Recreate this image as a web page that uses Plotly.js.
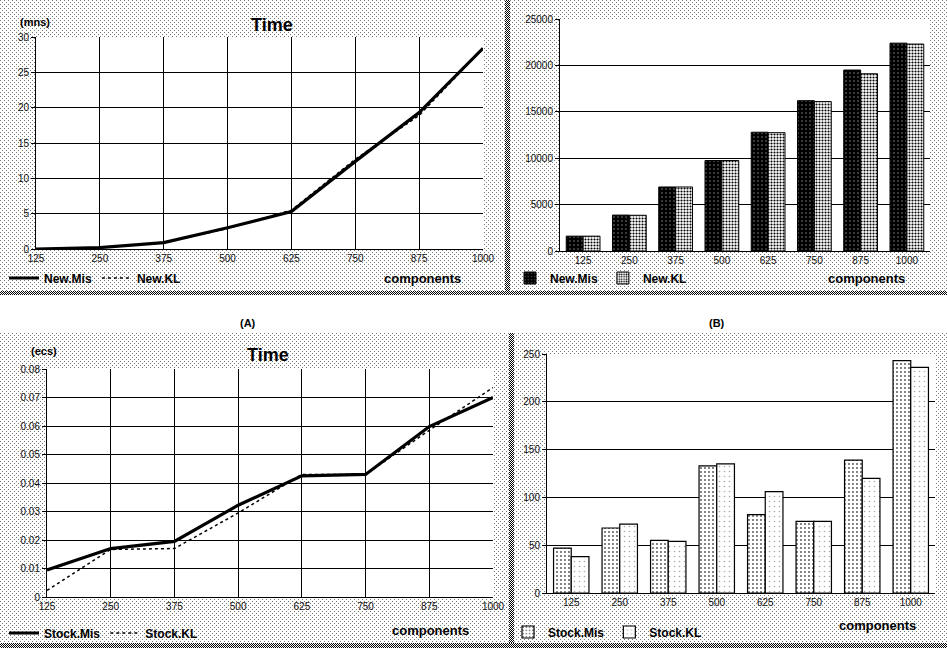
<!DOCTYPE html>
<html>
<head>
<meta charset="utf-8">
<script src="https://cdn.plot.ly/plotly-3.0.1.min.js"></script>
<style>
  html, body { margin: 0; padding: 0; background: #fff; width: 947px; height: 651px; overflow: hidden; }
  .panel {
    position: absolute;
    box-sizing: border-box;
    background-color: #fff;
    background-image: url("data:image/svg+xml;utf8,<svg xmlns='http://www.w3.org/2000/svg' width='4' height='4' shape-rendering='crispEdges'><rect x='0' y='0' width='1' height='1' fill='%23777'/><rect x='2' y='2' width='1' height='1' fill='%23777'/></svg>");
    background-size: 4px 4px;
    background-repeat: repeat;
  }
  .band {
    position: absolute;
    background: repeating-conic-gradient(#000 0 25%, #fff 0 50%) 0 0 / 2px 2px;
  }
  #chart { position: absolute; left: 0; top: 0; width: 947px; height: 651px; }
</style>
</head>
<body>
<div class="panel" style="left:0;top:0;width:506px;height:292px;"></div>
<div class="panel" style="left:510px;top:0;width:437px;height:292px;"></div>
<div class="band" style="left:505px;top:0;width:5px;height:295px;"></div>
<div class="band" style="left:0;top:291px;width:947px;height:4px;"></div>

<div class="panel" style="left:0;top:333px;width:510px;height:311px;"></div>
<div class="panel" style="left:514px;top:333px;width:433px;height:311px;"></div>
<div class="band" style="left:509px;top:333px;width:5px;height:315px;"></div>
<div class="band" style="left:0;top:643px;width:947px;height:5px;"></div>

<div id="chart"></div>
<script>
// ---- data ----
const components = [125, 250, 375, 500, 625, 750, 875, 1000];
const componentLabels = ['125', '250', '375', '500', '625', '750', '875', '1000'];

// (A) Time in minutes
const newMisTime = [0, 0.2, 0.9, 3.0, 5.3, 12.4, 19.3, 28.4];
const newKLTime  = [0, 0.2, 0.9, 2.9, 5.5, 12.7, 18.9, 28.4];

// (B) bars
const newMisBars = [1600, 3870, 6900, 9750, 12800, 16200, 19500, 22400];
const newKLBars  = [1600, 3850, 6900, 9750, 12750, 16100, 19100, 22300];

// (C) Time in seconds
const stockMisTime = [0.0095, 0.017, 0.0195, 0.0322, 0.0425, 0.043, 0.0598, 0.070];
const stockKLTime  = [0.0023, 0.0167, 0.017, 0.0295, 0.043, 0.043, 0.0585, 0.0735];

// (D) bars
const stockMisBars = [47, 68, 55, 133, 82, 75, 139, 243];
const stockKLBars  = [38, 72, 54, 135, 106, 75, 120, 236];

// tick labels
const ticksA = [0, 5, 10, 15, 20, 25, 30];
const ticksB = [0, 5000, 10000, 15000, 20000, 25000];
const ticksC = [0, 0.01, 0.02, 0.03, 0.04, 0.05, 0.06, 0.07, 0.08];
const ticksCText = ['0', '0.01', '0.02', '0.03', '0.04', '0.05', '0.06', '0.07', '0.08'];
const ticksD = [0, 50, 100, 150, 200, 250];

const seriesNames = { newMis: 'New.Mis', newKL: 'New.KL', stockMis: 'Stock.Mis', stockKL: 'Stock.KL' };

// ---- layout helpers ----
const W = 947, H = 651;
const px = v => v / W;
const py = v => 1 - v / H;
const FONT = 'Liberation Sans, Arial, sans-serif';
const tickFont = { family: FONT, size: 10, color: '#111' };

const traces = [
  { type: 'scatter', mode: 'lines', x: components, y: newMisTime, name: seriesNames.newMis,
    xaxis: 'x', yaxis: 'y', legend: 'legend',
    line: { color: '#000', width: 3.2 } },
  { type: 'scatter', mode: 'lines', x: components, y: newKLTime, name: seriesNames.newKL,
    xaxis: 'x', yaxis: 'y', legend: 'legend',
    line: { color: '#000', width: 1.5, dash: 'dot' } },

  { type: 'bar', x: componentLabels, y: newMisBars, name: seriesNames.newMis,
    xaxis: 'x2', yaxis: 'y2', legend: 'legend2',
    marker: { color: '#000', line: { color: '#000', width: 1 },
      pattern: { shape: '.', fgcolor: '#888', bgcolor: '#000', size: 4, solidity: 0.12, fillmode: 'replace' } } },
  { type: 'bar', x: componentLabels, y: newKLBars, name: seriesNames.newKL,
    xaxis: 'x2', yaxis: 'y2', legend: 'legend2',
    marker: { color: '#fff', line: { color: '#000', width: 1 },
      pattern: { shape: '.', fgcolor: '#000', bgcolor: '#fff', size: 3, solidity: 0.4, fillmode: 'replace' } } },

  { type: 'scatter', mode: 'lines', x: components, y: stockMisTime, name: seriesNames.stockMis,
    xaxis: 'x3', yaxis: 'y3', legend: 'legend3',
    line: { color: '#000', width: 3.2 } },
  { type: 'scatter', mode: 'lines', x: components, y: stockKLTime, name: seriesNames.stockKL,
    xaxis: 'x3', yaxis: 'y3', legend: 'legend3',
    line: { color: '#000', width: 1.5, dash: 'dot' } },

  { type: 'bar', x: componentLabels, y: stockMisBars, name: seriesNames.stockMis,
    xaxis: 'x4', yaxis: 'y4', legend: 'legend4',
    marker: { color: '#fff', line: { color: '#000', width: 1.2 },
      pattern: { shape: '.', fgcolor: '#555', bgcolor: '#fff', size: 4, solidity: 0.18, fillmode: 'replace' } } },
  { type: 'bar', x: componentLabels, y: stockKLBars, name: seriesNames.stockKL,
    xaxis: 'x4', yaxis: 'y4', legend: 'legend4',
    marker: { color: '#fff', line: { color: '#000', width: 1.2 },
      pattern: { shape: '.', fgcolor: '#aaa', bgcolor: '#fff', size: 5, solidity: 0.08, fillmode: 'replace' } } }
];

const lineXAxis = (dom) => ({
  domain: dom, range: [125, 1000], tickvals: components, ticktext: componentLabels,
  showgrid: true, gridcolor: '#000', gridwidth: 1, zeroline: false,
  showline: true, linecolor: '#000', linewidth: 1, mirror: false,
  ticks: '', tickfont: tickFont, fixedrange: true
});
const valAxis = (dom, range, tv, tt) => ({
  domain: dom, range: range, tickvals: tv, ticktext: tt,
  showgrid: true, gridcolor: '#000', gridwidth: 1, zeroline: false,
  showline: true, linecolor: '#000', linewidth: 1,
  ticks: 'outside', ticklen: 4, tickcolor: '#000', tickfont: tickFont, fixedrange: true
});
const catAxis = (dom) => ({
  domain: dom, type: 'category', showgrid: false, zeroline: false,
  showline: true, linecolor: '#000', linewidth: 1, ticks: '', tickfont: tickFont, fixedrange: true
});

const legendBase = (x, y) => ({
  x: x, y: y, xanchor: 'left', yanchor: 'middle', orientation: 'h',
  bgcolor: 'rgba(0,0,0,0)', borderwidth: 0,
  font: { family: FONT, size: 12, color: '#000', weight: 'bold' }, itemwidth: 30, tracegroupgap: 0
});

const titleFont = { family: FONT, size: 18, color: '#000', weight: 'bold' };
const boldSmall = { family: FONT, size: 11, color: '#000', weight: 'bold' };
const compFont = { family: FONT, size: 13, color: '#000', weight: 'bold' };

const ann = (text, x, y, font) => ({
  text: text, x: px(x), y: py(y), xref: 'paper', yref: 'paper',
  xanchor: 'center', yanchor: 'middle', showarrow: false, font: font
});

const layout = {
  width: W, height: H,
  margin: { l: 0, r: 0, t: 0, b: 0, pad: 0 },
  paper_bgcolor: 'rgba(0,0,0,0)',
  plot_bgcolor: '#fff',
  showlegend: true,
  barmode: 'group', bargap: 0.27, bargroupgap: 0,
  xaxis: lineXAxis([px(36), px(483)]),
  yaxis: valAxis([py(249), py(37)], [0, 30], ticksA, ticksA.map(String)),
  xaxis2: Object.assign(catAxis([px(560), px(930)]), { anchor: 'y2' }),
  yaxis2: Object.assign(valAxis([py(251), py(19)], [0, 25000], ticksB, ticksB.map(String)), { anchor: 'x2' }),
  xaxis3: Object.assign(lineXAxis([px(47), px(493)]), { anchor: 'y3' }),
  yaxis3: Object.assign(valAxis([py(597), py(369)], [0, 0.08], ticksC, ticksCText), { anchor: 'x3' }),
  xaxis4: Object.assign(catAxis([px(547), px(935)]), { anchor: 'y4' }),
  yaxis4: Object.assign(valAxis([py(593), py(354)], [0, 250], ticksD, ticksD.map(String)), { anchor: 'x4' }),
  legend: legendBase(px(4), py(278)),
  legend2: legendBase(px(510), py(278)),
  legend3: legendBase(px(4), py(633)),
  legend4: legendBase(px(508), py(632)),
  annotations: [
    ann('Time', 272, 25, titleFont),
    ann('Time', 268, 355, titleFont),
    ann('(mns)', 35, 22, boldSmall),
    ann('(ecs)', 44, 351, boldSmall),
    ann('components', 422, 278, compFont),
    ann('components', 866, 278, compFont),
    ann('components', 430, 630, compFont),
    ann('components', 877, 625, compFont),
    ann('(A)', 248, 323, boldSmall),
    ann('(B)', 717, 323, boldSmall)
  ]
};

Plotly.newPlot('chart', traces, layout, { displayModeBar: false, staticPlot: true });
</script>
</body>
</html>
